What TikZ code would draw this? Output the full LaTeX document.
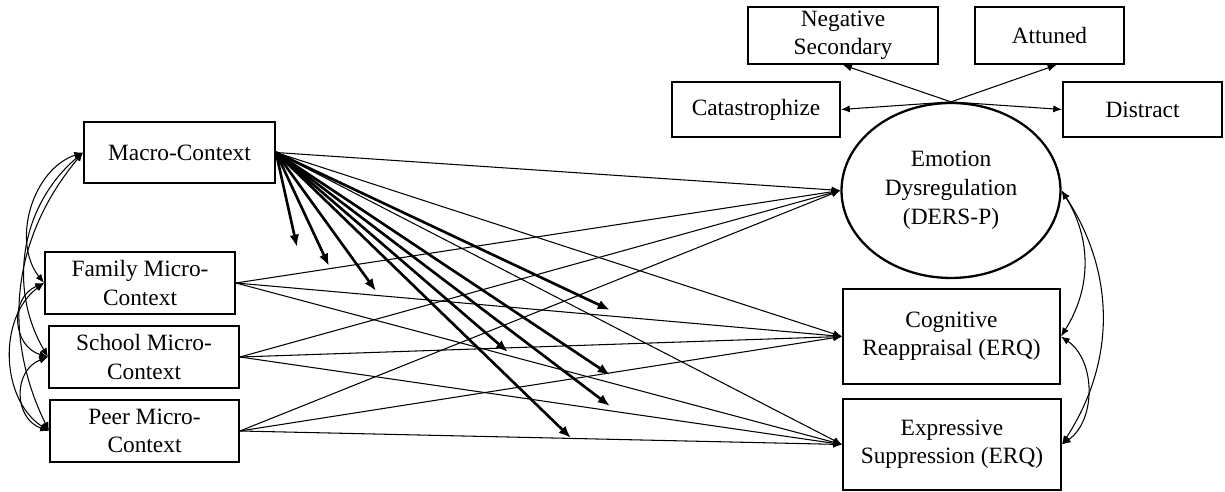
\documentclass[tikz,border=0pt]{standalone}
\usepackage{fontspec}
\setmainfont{Liberation Serif}
\usetikzlibrary{arrows.meta, shapes.geometric}

\tikzset{
    box/.style={draw, line width=1.1pt, align=center, inner sep=1pt,
        font=\fontsize{13.3}{16}\selectfont},
    latent/.style={box, ellipse, line width=1.3pt, font=\fontsize{13.3}{16.5}\selectfont},
    path/.style={line width=0.6pt, -{Latex[length=5pt,width=4pt]}},
    modpath/.style={line width=1.5pt, -{Latex[length=7pt,width=5.5pt]}},
    cov/.style={line width=0.6pt, {Latex[length=5pt,width=4pt]}-{Latex[length=5pt,width=4pt]}}
}

\begin{document}
\begin{tikzpicture}[x=0.02cm, y=-0.02cm]
    \useasboundingbox (0,0) rectangle (1225,492);

    % Contexts
    \node[box, minimum width=3.82cm, minimum height=1.22cm] (macro) at (179.5,152.5) {Macro-Context};
    \node[box, minimum width=3.8cm, minimum height=1.24cm] (family) at (140,283) {Family Micro-\\Context};
    \node[box, minimum width=3.8cm, minimum height=1.24cm] (school) at (144,357) {School Micro-\\Context};
    \node[box, minimum width=3.78cm, minimum height=1.24cm] (peer) at (144.5,431) {Peer Micro-\\Context};

    % Outcomes
    \node[latent, minimum width=4.38cm, minimum height=3.5cm] (ders) at (951,190.5) {Emotion\\Dysregulation\\(DERS-P)};
    \node[box, minimum width=4.34cm, minimum height=1.9cm] (cogn) at (951.5,336.5) {Cognitive\\Reappraisal (ERQ)};
    \node[box, minimum width=4.36cm, minimum height=1.82cm] (expr) at (952,444.5) {Expressive\\Suppression (ERQ)};

    % Indicators
    \node[box, minimum width=3.8cm, minimum height=1.14cm] (negsec) at (843,35.5) {Negative\\Secondary};
    \node[box, minimum width=2.98cm, minimum height=1.14cm] (attuned) at (1049.5,35.5) {Attuned};
    \node[box, minimum width=3.36cm, minimum height=1.1cm] (catas) at (756,109.5) {Catastrophize};
    \node[box, minimum width=3.18cm, minimum height=1.1cm] (distract) at (1142.5,109.5) {Distract};

    \draw[path] (ders.north) -- (negsec.south);
    \draw[path] (ders.north) -- ([xshift=0.14cm]attuned.south);
    \draw[path] (ders.north) -- (catas.east);
    \draw[path] (ders.north) -- (distract.west);

    % Direct paths
    \foreach \src in {macro, family, school, peer} {
        \draw[path] (\src.east) -- (ders.west);
        \draw[path] (\src.east) -- (cogn.west);
        \draw[path] (\src.east) -- (expr.west);
    }

    % Moderation by macro-context
    \coordinate (m1) at (297,247);
    \coordinate (m2) at (329,266);
    \coordinate (m3) at (376,291);
    \coordinate (m4) at (610,310);
    \coordinate (m5) at (508,352);
    \coordinate (m6) at (610,375);
    \coordinate (m7) at (610,406);
    \coordinate (m8) at (571,438);
    \foreach \m in {1,...,8}
        \draw[modpath] (macro.east) -- (m\m);

    % Covariances
    \draw[cov] (macro.west) to[bend right=55] (family.west);
    \draw[cov] (macro.west) to[bend right=40] (school.west);
    \draw[cov] (macro.west) to[bend right=33] (peer.west);
    \draw[cov] (family.west) to[bend right=70, looseness=1.3] (school.west);
    \draw[cov] (family.west) to[bend right=55] (peer.west);
    \draw[cov] (school.west) to[bend right=70, looseness=1.3] (peer.west);

    \draw[cov] (ders.east) to[bend left=32] (cogn.east);
    \draw[cov] (ders.east) to[bend left=33] (expr.east);
    \draw[cov] (cogn.east) to[bend left=55] (expr.east);
\end{tikzpicture}
\end{document}
